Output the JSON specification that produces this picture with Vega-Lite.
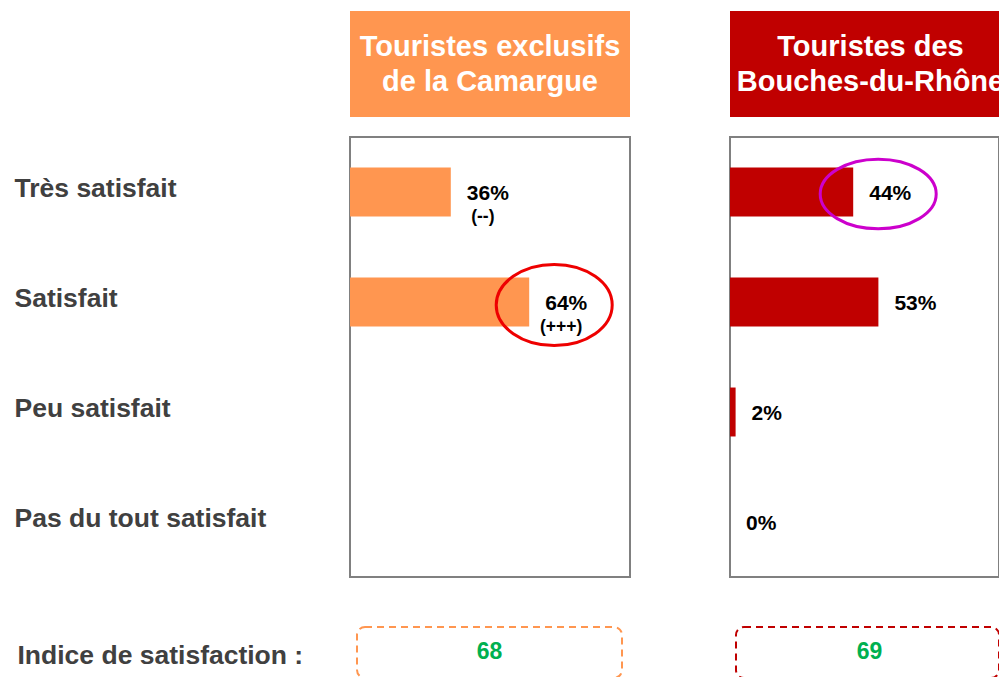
{
  "$schema": "https://vega.github.io/schema/vega-lite/v6.json",
  "background": "white",
  "padding": {"left": 13, "top": 11, "right": 0, "bottom": 0},
  "config": {"font": "Liberation Sans", "view": {"stroke": null}},
  "datasets": {
    "entetes": [
      {"groupe": "Camargue", "titre": "Touristes exclusifs\nde la Camargue"},
      {"groupe": "BdR", "titre": "Touristes des\nBouches-du-Rhône"}
    ],
    "barres": [
      {"groupe": "Camargue", "categorie": "Très satisfait", "valeur": 0.36, "signif": "(--)", "entoure": false},
      {"groupe": "Camargue", "categorie": "Satisfait", "valeur": 0.64, "signif": "(+++)", "entoure": true},
      {"groupe": "BdR", "categorie": "Très satisfait", "valeur": 0.44, "signif": null, "entoure": true},
      {"groupe": "BdR", "categorie": "Satisfait", "valeur": 0.53, "signif": null, "entoure": false},
      {"groupe": "BdR", "categorie": "Peu satisfait", "valeur": 0.02, "signif": null, "entoure": false},
      {"groupe": "BdR", "categorie": "Pas du tout satisfait", "valeur": 0.0, "signif": null, "entoure": false}
    ],
    "indices": [
      {"groupe": "Camargue", "libelle": "Indice de satisfaction :", "indice": 68},
      {"groupe": "BdR", "libelle": "Indice de satisfaction :", "indice": 69}
    ]
  },
  "hconcat": [
    {
      "spacing": 19,
      "align": "each",
      "vconcat": [
        {
          "width": 280, "height": 106,
          "view": {"fill": "#ff9650", "stroke": null},
          "data": {"name": "entetes"},
          "transform": [{"filter": "datum.groupe === 'Camargue'"}],
          "mark": {"type": "text", "color": "white", "fontSize": 29, "fontWeight": "bold", "lineBreak": "\n", "lineHeight": 35, "align": "center", "baseline": "middle", "dy": -17},
          "encoding": {"text": {"field": "titre", "type": "nominal"}}
        },
        {
          "width": 280, "height": 440,
          "view": {"stroke": "#808080", "strokeWidth": 2},
          "data": {"name": "barres"},
          "transform": [{"filter": "datum.groupe === 'Camargue'"}],
          "encoding": {
            "y": {"field": "categorie", "type": "nominal",
              "scale": {"domain": ["Très satisfait", "Satisfait", "Peu satisfait", "Pas du tout satisfait"], "paddingInner": 0.555, "paddingOuter": 0.2775},
              "axis": {"title": null, "ticks": false, "tickSize": 0, "domain": false, "grid": false, "labelAlign": "left", "labelPadding": 336, "labelFontSize": 26.5, "labelFontWeight": "bold", "labelColor": "#404040", "labelLimit": 400, "labelOffset": -3, "labelBaseline": "middle"}},
            "x": {"field": "valeur", "type": "quantitative", "scale": {"domain": [0, 1], "nice": false}, "axis": null}
          },
          "layer": [
            {"mark": {"type": "bar", "color": "#ff9650"}},
            {"mark": {"type": "text", "align": "left", "baseline": "middle", "dx": 16, "dy": 2, "fontSize": 21, "fontWeight": "bold", "color": "#000000"},
             "encoding": {"text": {"field": "valeur", "type": "quantitative", "format": ".0%"}}},
            {"transform": [{"filter": "isValid(datum.signif)"}],
             "mark": {"type": "text", "align": "center", "baseline": "middle", "dx": 32, "dy": 25, "fontSize": 17.5, "fontWeight": "bold", "color": "#000000"},
             "encoding": {"text": {"field": "signif", "type": "nominal"}}},
            {"transform": [{"filter": "datum.entoure === true"}],
             "mark": {"type": "point", "shape": "M -1 0 C -1 -0.387 -0.552 -0.7 0 -0.7 C 0.552 -0.7 1 -0.387 1 0 C 1 0.387 0.552 0.7 0 0.7 C -0.552 0.7 -1 0.387 -1 0 Z", "size": 13456, "filled": false, "color": "#ee0000", "stroke": "#ee0000", "strokeWidth": 3, "opacity": 1, "xOffset": 25, "yOffset": 3}}
          ]
        },
        {
          "width": 280, "height": 81,
          "data": {"name": "indices"},
          "transform": [{"filter": "datum.groupe === 'Camargue'"}],
          "encoding": {
            "x": {"field": "groupe", "type": "nominal", "scale": {"paddingInner": 0, "paddingOuter": 0.0283, "align": 0.467}, "axis": null},
            "y": {"field": "libelle", "type": "nominal",
              "scale": {"paddingInner": 0, "paddingOuter": 0.294, "align": 1},
              "axis": {"title": null, "ticks": false, "tickSize": 0, "domain": false, "grid": false, "labelAlign": "left", "labelPadding": 333, "labelFontSize": 26.5, "labelFontWeight": "bold", "labelColor": "#404040", "labelLimit": 400, "labelOffset": 4, "labelBaseline": "middle"}}
          },
          "layer": [
            {"mark": {"type": "rect", "fill": "white", "fillOpacity": 0, "stroke": "#ff9650", "strokeWidth": 2, "strokeDash": [7, 5], "cornerRadius": 8}},
            {"mark": {"type": "text", "color": "#00b050", "fontSize": 23, "fontWeight": "bold", "baseline": "middle", "align": "center"},
             "encoding": {"text": {"field": "indice", "type": "quantitative"}}}
          ]
        }
      ]
    },
    {
      "spacing": 19,
      "align": "each",
      "vconcat": [
        {
          "width": 269, "height": 106,
          "view": {"fill": "#c00000", "stroke": null},
          "data": {"name": "entetes"},
          "transform": [{"filter": "datum.groupe === 'BdR'"}],
          "mark": {"type": "text", "color": "white", "fontSize": 29, "fontWeight": "bold", "lineBreak": "\n", "lineHeight": 35, "align": "center", "baseline": "middle", "dx": 6, "dy": -17},
          "encoding": {"text": {"field": "titre", "type": "nominal"}}
        },
        {
          "width": 269, "height": 440,
          "view": {"stroke": "#808080", "strokeWidth": 2},
          "data": {"name": "barres"},
          "transform": [{"filter": "datum.groupe === 'BdR'"}],
          "encoding": {
            "y": {"field": "categorie", "type": "nominal",
              "scale": {"domain": ["Très satisfait", "Satisfait", "Peu satisfait", "Pas du tout satisfait"], "paddingInner": 0.555, "paddingOuter": 0.2775},
              "axis": null},
            "x": {"field": "valeur", "type": "quantitative", "scale": {"domain": [0, 0.9607], "nice": false}, "axis": null}
          },
          "layer": [
            {"mark": {"type": "bar", "color": "#c00000"}},
            {"mark": {"type": "text", "align": "left", "baseline": "middle", "dx": 16, "dy": 2, "fontSize": 21, "fontWeight": "bold", "color": "#000000"},
             "encoding": {"text": {"field": "valeur", "type": "quantitative", "format": ".0%"}}},
            {"transform": [{"filter": "datum.entoure === true"}],
             "mark": {"type": "point", "shape": "M -1 0 C -1 -0.331 -0.552 -0.6 0 -0.6 C 0.552 -0.6 1 -0.331 1 0 C 1 0.331 0.552 0.6 0 0.6 C -0.552 0.6 -1 0.331 -1 0 Z", "size": 13456, "filled": false, "color": "#cc00cc", "stroke": "#cc00cc", "strokeWidth": 3, "opacity": 1, "xOffset": 25, "yOffset": 2}}
          ]
        },
        {
          "width": 269, "height": 81,
          "data": {"name": "indices"},
          "transform": [{"filter": "datum.groupe === 'BdR'"}],
          "encoding": {
            "x": {"field": "groupe", "type": "nominal", "scale": {"paddingInner": 0, "paddingOuter": 0.0114, "align": 1}, "axis": null},
            "y": {"field": "libelle", "type": "nominal",
              "scale": {"paddingInner": 0, "paddingOuter": 0.294, "align": 1},
              "axis": null}
          },
          "layer": [
            {"mark": {"type": "rect", "fill": "white", "fillOpacity": 0, "stroke": "#c00000", "strokeWidth": 2, "strokeDash": [7, 5], "cornerRadius": 8}},
            {"mark": {"type": "text", "color": "#00b050", "fontSize": 23, "fontWeight": "bold", "baseline": "middle", "align": "center", "dx": 2},
             "encoding": {"text": {"field": "indice", "type": "quantitative"}}}
          ]
        }
      ]
    }
  ],
  "spacing": 98
}
